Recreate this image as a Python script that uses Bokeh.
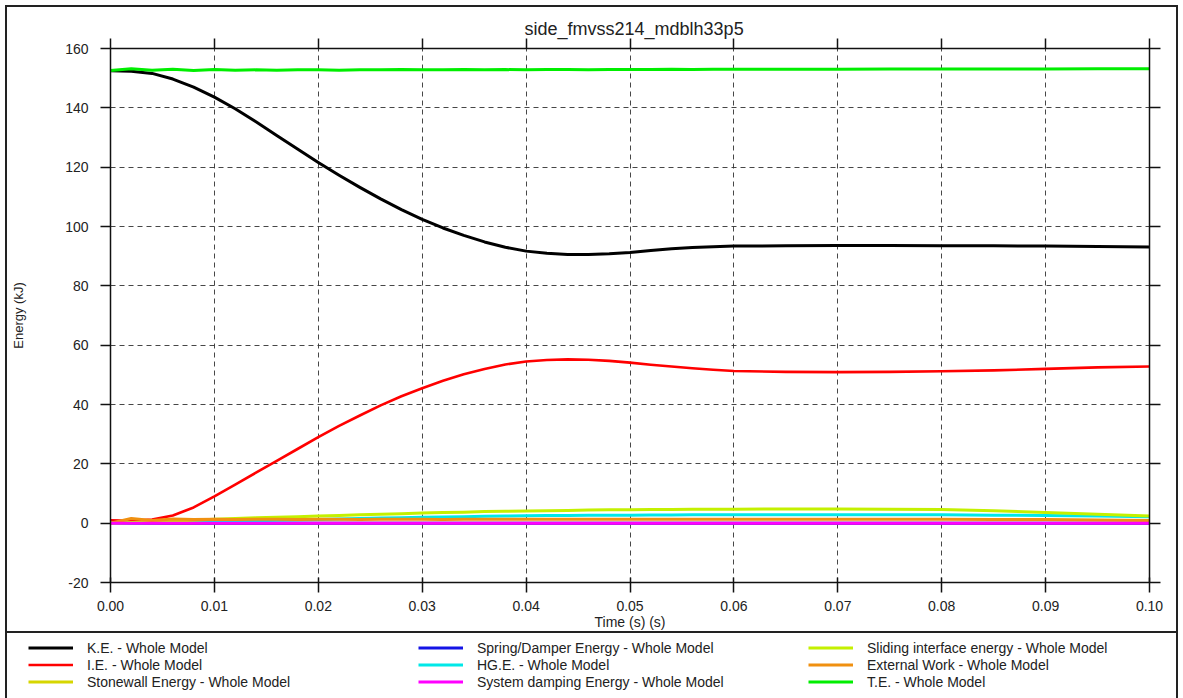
from bokeh.plotting import figure
from bokeh.models import (Range1d, LinearAxis, FixedTicker, PrintfTickFormatter, Legend,
                          LegendItem, CustomJSTickFormatter, Grid)
from bokeh.embed import file_html
from bokeh.resources import INLINE

FONT = "Liberation Sans"

title_text = "side_fmvss214_mdblh33p5"
x_label = "Time (s) (s)"
y_label = "Energy (kJ)"
x_ticks = [0.00, 0.01, 0.02, 0.03, 0.04, 0.05, 0.06, 0.07, 0.08, 0.09, 0.10]
y_ticks = [-20, 0, 20, 40, 60, 80, 100, 120, 140, 160]
x_min, x_max = 0.0, 0.1
y_min, y_max = -20, 160

time = [0.000, 0.002, 0.004, 0.006, 0.008, 0.010, 0.012, 0.014, 0.016, 0.018,
        0.020, 0.022, 0.024, 0.026, 0.028, 0.030, 0.032, 0.034, 0.036, 0.038,
        0.040, 0.042, 0.044, 0.046, 0.048, 0.050, 0.052, 0.054, 0.056, 0.058,
        0.060, 0.065, 0.070, 0.075, 0.080, 0.085, 0.090, 0.095, 0.100]

ke = [152.5, 152.3, 151.6, 149.7, 147.0, 143.6, 139.7, 135.3, 130.7, 126.1,
      121.6, 117.3, 113.2, 109.3, 105.7, 102.4, 99.5, 97.0, 94.8, 93.0,
      91.7, 91.0, 90.6, 90.6, 90.8, 91.2, 91.9, 92.5, 92.9, 93.2,
      93.4, 93.5, 93.6, 93.6, 93.5, 93.5, 93.4, 93.3, 93.1]

ie = [1.0, 0.8, 1.2, 2.6, 5.3, 9.0, 13.0, 17.0, 21.0, 25.0,
      29.0, 32.8, 36.3, 39.7, 42.8, 45.5, 48.0, 50.2, 52.0, 53.5,
      54.5, 55.0, 55.2, 55.1, 54.7, 54.1, 53.4, 52.8, 52.2, 51.7,
      51.3, 51.0, 50.9, 51.0, 51.2, 51.5, 52.0, 52.5, 52.8]

te = [152.6, 153.2, 152.7, 153.0, 152.6, 152.9, 152.7, 152.8, 152.7, 152.8,
      152.8, 152.7, 152.8, 152.8, 152.9, 152.8, 152.8, 152.9, 152.8, 152.9,
      152.8, 152.9, 152.9, 152.8, 152.9, 152.9, 152.9, 153.0, 152.9, 153.0,
      153.0, 153.0, 153.0, 153.1, 153.1, 153.1, 153.1, 153.2, 153.2]

sliding = [0.0, 0.2, 0.4, 0.7, 1.0, 1.3, 1.6, 1.8, 2.0, 2.2,
           2.4, 2.6, 2.8, 3.0, 3.2, 3.4, 3.6, 3.7, 3.9, 4.0,
           4.1, 4.2, 4.3, 4.4, 4.5, 4.5, 4.6, 4.6, 4.7, 4.7,
           4.7, 4.8, 4.8, 4.7, 4.6, 4.2, 3.6, 3.0, 2.4]

hge = [0.0, 0.05, 0.1, 0.2, 0.35, 0.5, 0.65, 0.8, 0.95, 1.1,
       1.25, 1.4, 1.55, 1.7, 1.85, 2.0, 2.1, 2.2, 2.3, 2.4,
       2.5, 2.55, 2.6, 2.65, 2.7, 2.7, 2.75, 2.75, 2.8, 2.8,
       2.8, 2.8, 2.8, 2.8, 2.8, 2.7, 2.6, 2.4, 2.2]

ext_work = [0.0, 1.6, 0.9, 1.4, 1.2, 1.3, 1.2, 1.3, 1.3, 1.2,
            1.3, 1.3, 1.2, 1.3, 1.3, 1.3, 1.2, 1.3, 1.3, 1.3,
            1.3, 1.3, 1.3, 1.3, 1.3, 1.3, 1.3, 1.3, 1.3, 1.3,
            1.3, 1.3, 1.3, 1.3, 1.3, 1.2, 1.2, 1.1, 0.9]

zero_time = [0.0, 0.1]
stonewall = [0.0, 0.0]
spring = [0.0, 0.0]
sysdamp = [0.0, 0.0]

labels = {
    "ke": "K.E. - Whole Model",
    "ie": "I.E. - Whole Model",
    "stone": "Stonewall Energy - Whole Model",
    "spring": "Spring/Damper Energy - Whole Model",
    "hge": "HG.E. - Whole Model",
    "damp": "System damping Energy - Whole Model",
    "slide": "Sliding interface energy - Whole Model",
    "ext": "External Work - Whole Model",
    "te": "T.E. - Whole Model",
}
colors = {
    "ke": "#000000", "ie": "#ff0000", "stone": "#d6d600", "spring": "#1414e6",
    "hge": "#00e8e8", "damp": "#ff00ff", "slide": "#c4f000", "ext": "#f09010",
    "te": "#00ee00",
}
widths = {"ke": 3, "ie": 2.6, "stone": 3, "spring": 3, "hge": 3, "damp": 3,
          "slide": 3, "ext": 3, "te": 3}
data = {
    "ke": (time, ke), "ie": (time, ie), "stone": (zero_time, stonewall),
    "spring": (zero_time, spring), "hge": (time, hge), "slide": (time, sliding),
    "ext": (time, ext_work), "damp": (zero_time, sysdamp), "te": (time, te),
}
draw_order = ["ke", "ie", "stone", "spring", "hge", "slide", "ext", "damp", "te"]
legend_order = ["ke", "ie", "stone", "spring", "hge", "damp", "slide", "ext", "te"]

# ---- layout (pixels) ----
W, H = 1183, 698
FRAME_TOP = 38                 # canvas area above this holds the title
AX_LEFT, AX_RIGHT = 110, 1149  # x pixel of x_min / x_max
AX_TOP, AX_BOTTOM = 48, 582    # y pixel of y_max / y_min

xs_per_px = (x_max - x_min) / (AX_RIGHT - AX_LEFT)
ys_per_px = (y_max - y_min) / (AX_BOTTOM - AX_TOP)
x_range = Range1d(x_min - AX_LEFT * xs_per_px, x_max + (W - AX_RIGHT) * xs_per_px)
y_range = Range1d(y_min - (H - AX_BOTTOM) * ys_per_px, y_max + (AX_TOP - FRAME_TOP) * ys_per_px)

p = figure(width=W, height=H, x_range=x_range, y_range=y_range,
           output_backend="svg", toolbar_location=None,
           min_border_left=0, min_border_right=0, min_border_top=FRAME_TOP, min_border_bottom=0)
line = "linear-gradient(#222222, #222222)"
p.styles = {
    "background": (f"{line} 5px 5px / 2px 700px no-repeat, "
                   f"{line} 5px 5px / 1173px 2px no-repeat, "
                   f"{line} 1176px 5px / 2px 700px no-repeat, "
                   f"{line} 5px 631px / 1173px 2px no-repeat, #ffffff"),
}
p.border_fill_color = None
p.background_fill_color = None
p.outline_line_color = None
p.add_layout(LinearAxis(), "above")
p.add_layout(LinearAxis(), "right")

p.title.text = title_text
p.title.align = "left"
p.title.offset = 524
p.title.text_font = FONT
p.title.text_font_size = "18px"
p.title.text_font_style = "normal"
p.title.text_color = "#222222"
p.title.standoff = 0

for ax in p.xaxis:
    ax.ticker = FixedTicker(ticks=x_ticks)
    ax.formatter = PrintfTickFormatter(format="%.2f")
    ax.bounds = (x_min, x_max)
for ax in p.yaxis:
    ax.ticker = FixedTicker(ticks=y_ticks)
    ax.formatter = PrintfTickFormatter(format="%d")
    ax.bounds = (y_min, y_max)
for ax in list(p.xaxis) + list(p.yaxis):
    ax.axis_line_color = "#111111"
    ax.axis_line_width = 1.5
    ax.major_tick_line_color = "#111111"
    ax.major_tick_line_width = 1.5
    ax.minor_tick_line_color = None
    ax.major_label_text_font = FONT
    ax.major_label_text_font_size = "14px"
    ax.major_label_text_color = "#222222"
    ax.axis_label_text_font = FONT
    ax.axis_label_text_font_size = "14px"
    ax.axis_label_text_font_style = "normal"
    ax.axis_label_text_color = "#222222"
    ax.major_tick_in = 0
    ax.major_tick_out = 11

p.below[0].fixed_location = y_min
p.left[0].fixed_location = x_min
for ax in p.above:
    if isinstance(ax, LinearAxis):
        ax.fixed_location = y_max
        ax.formatter = CustomJSTickFormatter(code="return ''")
        ax.major_label_standoff = 0
for ax in p.right:
    if isinstance(ax, LinearAxis):
        ax.fixed_location = x_max
        ax.formatter = CustomJSTickFormatter(code="return ''")
        ax.major_label_standoff = 0

bx = p.below[0]
bx.axis_label = x_label
bx.major_tick_in = 5
bx.major_tick_out = 10
bx.major_label_standoff = 8
bx.axis_label_standoff = 0

ly = p.left[0]
ly.axis_label = y_label
ly.major_tick_out = 10
ly.major_label_standoff = 12
ly.axis_label_standoff = 36
ly.axis_label_text_font_size = "13px"

grid_style = dict(line_color="#333333", line_width=1, line_dash="5 4", line_alpha=0.9)
if "cross_bounds" in Grid.properties():
    p.xgrid.ticker = FixedTicker(ticks=x_ticks)
    p.ygrid.ticker = FixedTicker(ticks=y_ticks)
    p.xgrid.cross_bounds = (y_min, y_max)
    p.ygrid.cross_bounds = (x_min, x_max)
    for g in (p.xgrid, p.ygrid):
        g.grid_line_color = grid_style["line_color"]
        g.grid_line_width = grid_style["line_width"]
        g.grid_line_dash = grid_style["line_dash"]
        g.grid_line_alpha = grid_style["line_alpha"]
else:
    p.grid.visible = False
    p.segment(x0=x_ticks, y0=[y_min] * len(x_ticks), x1=x_ticks, y1=[y_max] * len(x_ticks),
              level="underlay", **grid_style)
    p.segment(x0=[x_min] * len(y_ticks), y0=y_ticks, x1=[x_max] * len(y_ticks), y1=y_ticks,
              level="underlay", **grid_style)

renderers = {}
for key in draw_order:
    xs, ys = data[key]
    renderers[key] = p.line(x=xs, y=ys, line_color=colors[key], line_width=widths[key],
                            line_join="round")

items = [LegendItem(label=labels[k], renderers=[renderers[k]]) for k in legend_order]
legend = Legend(items=items, location=(28, 8), orientation="vertical", nrows=3,
                glyph_width=45, glyph_height=17, label_height=17, label_width=331,
                label_standoff=14, spacing=0, padding=0, margin=0,
                border_line_color=None, background_fill_alpha=0,
                label_text_font=FONT, label_text_font_size="14px",
                label_text_color="#222222")
p.add_layout(legend, "center")

open("out.html", "w").write(file_html(p, INLINE))
